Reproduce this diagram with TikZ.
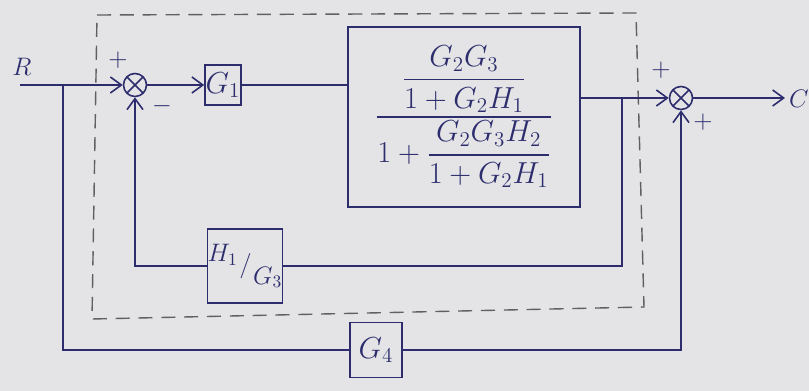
\documentclass[tikz,border=0pt]{standalone}
\usepackage{amsmath}
\usetikzlibrary{positioning,arrows.meta,calc}
\definecolor{ink}{RGB}{45,45,110}
\definecolor{paper}{RGB}{228,228,230}
\definecolor{pencil}{RGB}{95,95,100}

\begin{document}
\begin{tikzpicture}[x=0.02cm,y=-0.02cm,>={Straight Barb[length=2.2mm,width=3.2mm]},
  wire/.style={ink,line width=0.9pt},
  blk/.style={draw=ink,line width=0.9pt,text=ink,font=\LARGE,inner sep=0pt},
  sumj/.style={circle,draw=ink,line width=0.9pt,minimum size=0.46cm,inner sep=0pt,
    path picture={\draw[ink,line width=0.9pt] (path picture bounding box.north west) -- (path picture bounding box.south east)
      (path picture bounding box.north east) -- (path picture bounding box.south west);}},
  sgn/.style={text=ink,font=\Large},
  frame/.style={pencil,line width=0.8pt,dash pattern=on 8pt off 5pt}]
  \fill[paper] (0,0) rectangle (809,391); \useasboundingbox (0,0) rectangle (809,391);
  \draw[frame] (97,15) -- (636,13) -- (644,307) -- (92,319) -- cycle;
  \node[sumj] (s1) at (135,85) {}; \node[sumj] (s2) at (681,98) {};
  \node[blk,minimum width=0.72cm,minimum height=0.8cm] (g1) at (223,85) {$G_1$};
  \node[blk,minimum width=4.64cm,minimum height=3.6cm] (gm) at (464,117)
    {$\dfrac{\dfrac{G_2G_3}{1+G_2H_1}}{1+\dfrac{G_2G_3H_2}{1+G_2H_1}}$};
  \node[blk,font=\Large,minimum width=1.46cm,minimum height=1.48cm] (h) at (245,266)
    {$\raisebox{1ex}{$H_1$}\mkern1mu/\mkern1mu\raisebox{-1.1ex}{$G_3$}$};
  \node[blk,minimum width=1.04cm,minimum height=1.1cm] (g4) at (376,350) {$G_4$};
  \coordinate (r) at (20,85); \coordinate (c) at (785,98);
  \coordinate (b1) at (63,85); \coordinate (b2) at (622,98);
  \node[sgn] (lr) at (22,67) {$R$}; \node[sgn] (lc) at (799,99) {$C$};
  \node[sgn] (p1) at (118,60) {$+$}; \node[sgn] (m1) at (162,106) {$-$};
  \node[sgn] (p2) at (661,70) {$+$}; \node[sgn] (p3) at (703,122) {$+$};
  \draw[wire,->] (r) -- (s1.west);
  \draw[wire,->] (s1) -- (g1);
  \draw[wire] (g1) -- (g1 -| gm.west);
  \draw[wire,->] (gm.east |- s2) -- (s2);
  \draw[wire,->] (s2) -- (c);
  \draw[wire] (b2) |- (h.east);
  \draw[wire,->] (h.west) -| (s1.south);
  \draw[wire] (b1) |- (g4.west);
  \draw[wire,->] (g4.east) -| (s2.south);
\end{tikzpicture}
\end{document}
